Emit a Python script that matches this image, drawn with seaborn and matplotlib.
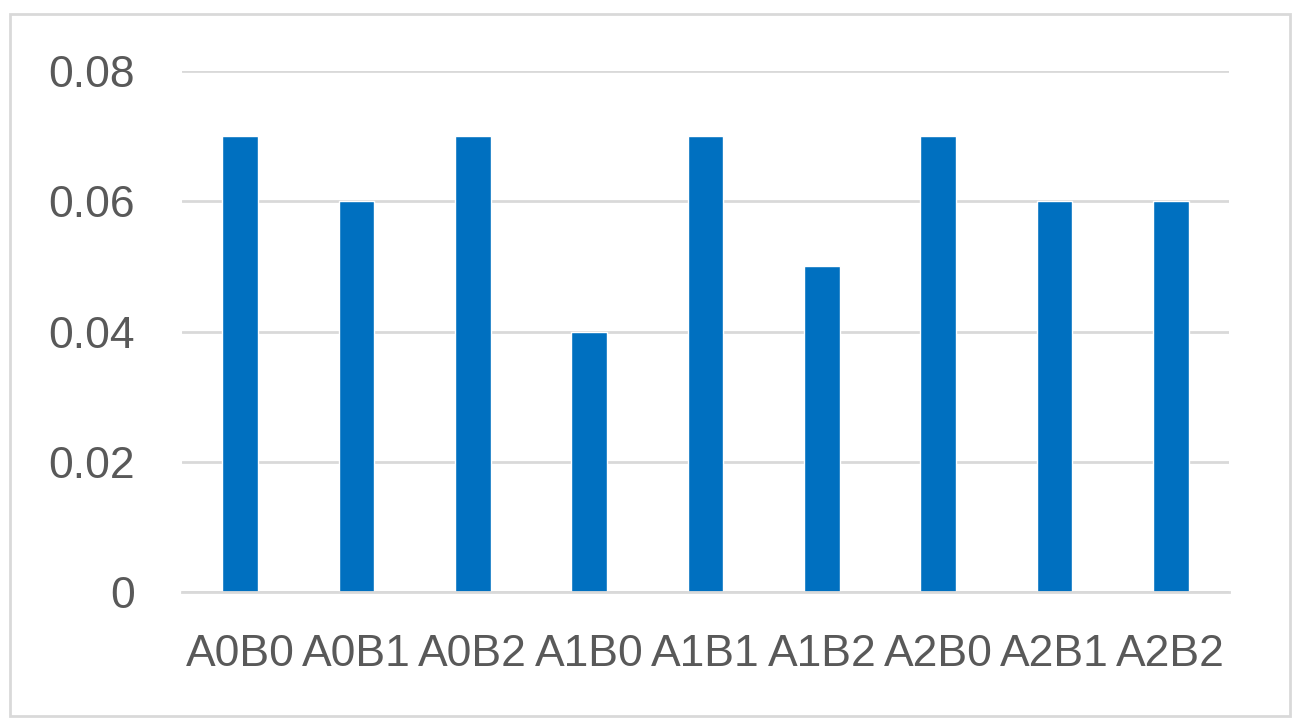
import matplotlib
matplotlib.use("Agg")
import matplotlib.pyplot as plt
import seaborn as sns
import pandas as pd
from matplotlib.patches import Rectangle

categories = ["A0B0", "A0B1", "A0B2", "A1B0", "A1B1", "A1B2", "A2B0", "A2B1", "A2B2"]
values = [0.07, 0.06, 0.07, 0.04, 0.07, 0.05, 0.07, 0.06, 0.06]
yticks = [0, 0.02, 0.04, 0.06, 0.08]
ytick_labels = ["0", "0.02", "0.04", "0.06", "0.08"]

sns.set_theme(style="white")
plt.rcParams["font.family"] = ["Liberation Sans", "DejaVu Sans"]

W, H = 1304, 724
fig = plt.figure(figsize=(W / 100, H / 100), dpi=100)
ax = fig.add_axes([182 / W, 1 - 592 / H, (1229 - 182) / W, (592 - 71) / H])

df = pd.DataFrame({"cat": categories, "val": values})
sns.barplot(data=df, x="cat", y="val", color="#0070C0", saturation=1, width=0.305, ax=ax)

ax.set_xlim(-0.5, len(categories) - 0.5)
ax.set_ylim(0, 0.08)
ax.set_yticks(yticks)
ax.set_yticklabels(ytick_labels)
ax.set_xlabel("")
ax.set_ylabel("")
ax.yaxis.grid(True, color="#d9d9d9", linewidth=2)
ax.set_axisbelow(True)
for s in ["top", "right", "left"]:
    ax.spines[s].set_visible(False)
ax.spines["bottom"].set_color("#d9d9d9")
ax.spines["bottom"].set_linewidth(2)
ax.tick_params(axis="both", length=0, labelsize=32, colors="#595959")
ax.tick_params(axis="y", pad=34)
ax.tick_params(axis="x", pad=30)

fig.add_artist(Rectangle((10 / W, 1 - 716 / H), (1290 - 10) / W, (716 - 14) / H,
                         transform=fig.transFigure, fill=False,
                         edgecolor="#d9d9d9", linewidth=2))

fig.savefig("out.png", dpi=100)
